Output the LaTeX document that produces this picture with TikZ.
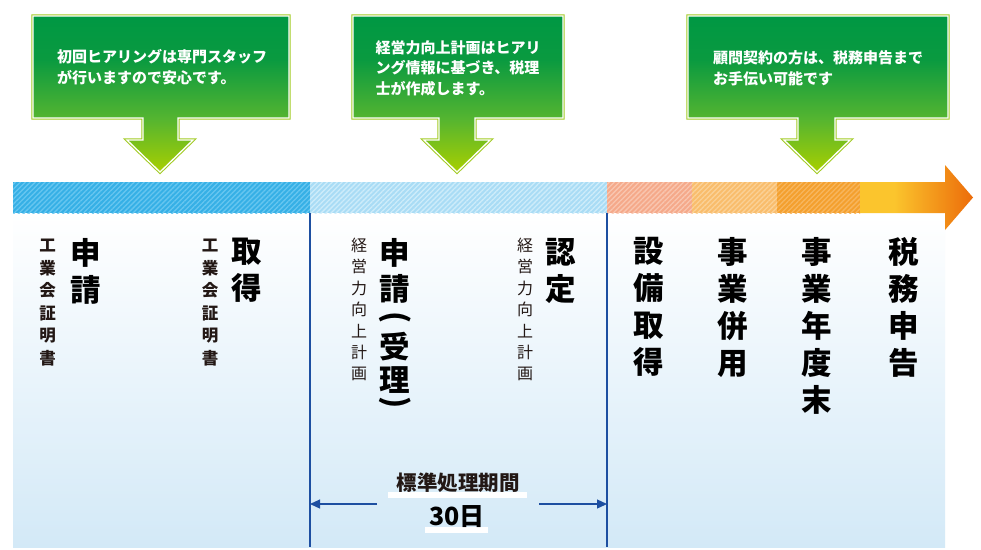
\documentclass[tikz,border=0pt]{standalone}
\usepackage{fontspec}
\setmainfont{Noto Sans CJK JP}
\newfontfamily\jpblack{Noto Sans CJK JP Black}
\usetikzlibrary{arrows.meta,patterns.meta}
\definecolor{cgTop}{HTML}{009843}
\definecolor{cgMid}{HTML}{0A9A40}
\definecolor{cgLow}{HTML}{55B530}
\definecolor{cgTip}{HTML}{A8CF00}
\definecolor{cgEdge}{HTML}{A2CB24}
\definecolor{sOneB}{HTML}{36B0E6}
\definecolor{sOneL}{HTML}{66C6F0}
\definecolor{sTwoB}{HTML}{A9DCF5}
\definecolor{sTwoL}{HTML}{CDECFA}
\definecolor{sThrB}{HTML}{F5A98A}
\definecolor{sThrL}{HTML}{F9C6B0}
\definecolor{sFouB}{HTML}{F9BD6C}
\definecolor{sFouL}{HTML}{FBD196}
\definecolor{sFivB}{HTML}{F4A02E}
\definecolor{sFivL}{HTML}{F7B65E}
\definecolor{oy}{HTML}{FBC52D}
\definecolor{oo}{HTML}{EC6C0A}
\definecolor{panelB}{HTML}{D3E9F7}
\definecolor{divc}{HTML}{1D4FA1}
\definecolor{txtd}{HTML}{231815}
\pgfdeclareverticalshading{callout}{100bp}{color(0bp)=(cgTip); color(25bp)=(cgTip); color(42bp)=(cgLow); color(61bp)=(cgMid); color(75bp)=(cgTop); color(100bp)=(cgTop)}
\pgfdeclarehorizontalshading{orgarrow}{100bp}{color(0bp)=(oy); color(25bp)=(oy); color(40bp)=(oy); color(75bp)=(oo); color(100bp)=(oo)}
\newcommand\mycallout[7]{%
  \path[coedge] (#1,16) -- (#2,16) -- (#2,118) -- (#4,118) -- (#4,140) -- (#6,140) -- (#7,172) -- (#5,140) -- (#3,140) -- (#3,118) -- (#1,118) -- cycle;
  \shade[shading=callout] (#1,16) -- (#2,16) -- (#2,118) -- (#4,118) -- (#4,140) -- (#6,140) -- (#7,172) -- (#5,140) -- (#3,140) -- (#3,118) -- (#1,118) -- cycle;
  \path[coinner] (#1,16) -- (#2,16) -- (#2,118) -- (#4,118) -- (#4,140) -- (#6,140) -- (#7,172) -- (#5,140) -- (#3,140) -- (#3,118) -- (#1,118) -- cycle;}
\tikzset{
  coedge/.style={draw=cgEdge, line width=3.4pt, line join=miter},
  coinner/.style={draw=white, line width=1.3pt, line join=miter},
  cotext/.style={text=white, font=\fontsize{15}{20.5}\selectfont\bfseries, align=left, inner sep=0pt},
  vbig/.style={font=\fontsize{30.5}{37}\selectfont\jpblack, text=black, align=center, inner sep=0pt, anchor=north},
  vchar/.style={font=\fontsize{30.5}{37}\selectfont\jpblack, text=black, inner sep=0pt, anchor=center},
  vsmallb/.style={font=\fontsize{16.5}{20}\selectfont\bfseries, text=txtd, inner sep=0pt, anchor=center},
  vsmall/.style={font=\fontsize{16}{20}\selectfont, text=txtd, inner sep=0pt, anchor=center},
  hatch/.style n args={2}{fill=#1, postaction={pattern={Lines[angle=45,distance=3.5pt,line width=1.3pt]}, pattern color=#2}},
  divline/.style={draw=divc, line width=1.4pt},
  dimarrow/.style={draw=divc, line width=1.2pt, -{Triangle[length=10pt,width=9pt]}},
  dimtext/.style={font=\fontsize{20.5}{24}\selectfont\bfseries, text=txtd, inner sep=0pt},
  daytext/.style={font=\fontsize{25}{30}\selectfont\jpblack, text=black, inner sep=0pt}
}
\begin{document}
\begin{tikzpicture}[x=1pt,y=-1pt]
\useasboundingbox (0,0) rectangle (981,549);
\fill[white] (0,0) rectangle (981,549);
% lower panel
\shade[top color=white, bottom color=panelB] (13,213) rectangle (945,547);
% bar segments
\path[hatch={sOneB}{sOneL}] (13,182) rectangle (310,213);
\path[hatch={sTwoB}{sTwoL}] (310,182) rectangle (607,213);
\path[hatch={sThrB}{sThrL}] (607,182) rectangle (692,213);
\path[hatch={sFouB}{sFouL}] (692,182) rectangle (777,213);
\path[hatch={sFivB}{sFivL}] (777,182) rectangle (860,213);
\shade[shading=orgarrow] (860,182) -- (945,182) -- (945,165) -- (973,197.5) -- (945,230) -- (945,213) -- (860,213) -- cycle;
% dividers
\coordinate (d1t) at (310,213);
\coordinate (d1b) at (310,547);
\coordinate (d2t) at (607,213);
\coordinate (d2b) at (607,547);
\draw[divline] (d1t) -- (d1b);
\draw[divline] (d2t) -- (d2b);
% callouts
\mycallout{33}{289}{143}{178}{127}{193}{160}
\mycallout{353}{563}{439}{475}{424}{490}{457}
\mycallout{688}{948}{798}{835}{784}{850}{817}
\node[cotext] (c1) at (162,67) {初回ヒアリングは専門スタッフ\\が行いますので安心です。};
\node[cotext] (c2) at (458,68) {経営力向上計画はヒアリ\\ング情報に基づき、税理\\士が作成します。};
\node[cotext] (c3) at (818,68.5) {顧問契約の方は、税務申告まで\\お手伝い可能です};
% vertical labels (small, one character per node)
\foreach \ch [count=\i from 0] in {工,業,会,証,明,書} {
  \node[vsmallb] (sa-\i) at (47.5,{245.5+22.6*\i}) {\ch};
  \node[vsmallb] (sb-\i) at (210,{245.5+22.6*\i}) {\ch};
}
\foreach \ch [count=\i from 0] in {経,営,力,向,上,計,画} {
  \node[vsmall] (sc-\i) at (359,{245.5+21.4*\i}) {\ch};
  \node[vsmall] (sd-\i) at (525,{245.5+21.4*\i}) {\ch};
}
% vertical labels (large)
\node[vbig] (b1) at (86,238) {申\\請};
\node[vbig] (b2) at (247,238) {取\\得};
\node[vchar] (b3a) at (395,253) {申};
\node[vchar] (b3b) at (395,289) {請};
\node[vchar] (b3c) at (395,319) {\rotatebox[origin=c]{-90}{(}};
\node[vchar] (b3d) at (395,347) {受};
\node[vchar] (b3e) at (395,380) {理};
\node[vchar] (b3f) at (395,404) {\rotatebox[origin=c]{-90}{)}};
\node[vbig] (b4) at (561,238) {認\\定};
\node[vbig] (b5) at (649,237) {設\\備\\取\\得};
\node[vbig] (b6) at (733,237) {事\\業\\併\\用};
\node[vbig] (b7) at (817,237) {事\\業\\年\\度\\末};
\node[vbig] (b8) at (904,237) {税\\務\\申\\告};
% standard period
\fill[white] (388,491.5) rectangle (527,497.5);
\fill[white] (425,527) rectangle (488,533);
\node[dimtext] (p1) at (458,483) {標準処理期間};
\node[daytext] (p2) at (457,517) {30日};
\coordinate (al) at (377,504);
\coordinate (alt) at (310,504);
\coordinate (ar) at (539,504);
\coordinate (art) at (607,504);
\draw[dimarrow] (al) -- (alt);
\draw[dimarrow] (ar) -- (art);
\end{tikzpicture}
\end{document}
